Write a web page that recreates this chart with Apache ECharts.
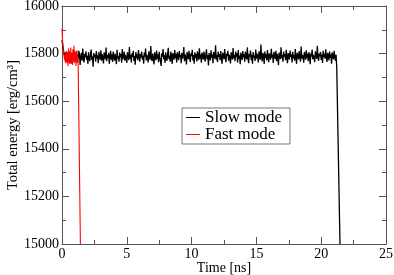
<!DOCTYPE html>
<html><head><meta charset="utf-8">
<script src="https://cdn.jsdelivr.net/npm/echarts@6/dist/echarts.min.js"></script>
<style>html,body{margin:0;padding:0;background:#fff}#c{width:394px;height:275px}</style>
</head><body><div id="c"></div>
<script>
// Slow mode: t = 0 .. 21.15 ns, step 0.05 ns
const slowStart = 0, slowStep = 0.05;
const slowValues = [
15858,15836,15819,15805,15797,15781,15806,15772,15799,15788,15765,15809,15779,15794,15758,15801,15786,15772,15815,15783,
15769,15797,15808,15761,15790,15776,15812,15795,15752,15788,15803,15770,15821,15781,15763,15799,15785,15810,15774,15791,
15757,15806,15780,15768,15798,15817,15773,15789,15745,15802,15784,15796,15766,15811,15779,15793,15760,15807,15787,15775,
15814,15770,15798,15782,15759,15805,15791,15776,15826,15768,15794,15781,15803,15757,15788,15812,15774,15797,15765,15809,
15783,15771,15800,15792,15756,15816,15779,15789,15766,15804,15784,15798,15762,15819,15776,15791,15808,15770,15795,15782,
15761,15806,15788,15773,15828,15779,15794,15763,15801,15786,15812,15769,15790,15753,15807,15781,15797,15772,15815,15788,
15766,15799,15784,15809,15775,15792,15758,15804,15787,15821,15771,15796,15780,15763,15810,15789,15774,15832,15782,15768,
15800,15793,15755,15806,15785,15772,15813,15779,15797,15764,15808,15783,15790,15748,15801,15787,15819,15776,15793,15761,
15805,15781,15770,15798,15824,15777,15791,15766,15809,15786,15757,15802,15792,15774,15815,15781,15799,15763,15806,15788,
15772,15811,15784,15795,15760,15803,15779,15791,15828,15768,15797,15785,15754,15807,15790,15776,15812,15782,15765,15801,
15789,15816,15771,15794,15758,15805,15783,15798,15767,15810,15787,15773,15822,15780,15796,15762,15804,15791,15775,15809,
15784,15766,15799,15818,15776,15793,15750,15802,15788,15771,15814,15783,15797,15760,15807,15790,15779,15835,15774,15795,
15765,15808,15786,15798,15772,15811,15781,15757,15803,15792,15776,15819,15785,15764,15800,15789,15812,15770,15796,15782,
15759,15806,15791,15775,15823,15780,15794,15768,15809,15786,15801,15763,15815,15778,15792,15755,15804,15788,15773,15811,
15784,15797,15766,15808,15790,15776,15826,15781,15760,15799,15787,15813,15772,15795,15758,15806,15783,15792,15769,15817,
15779,15800,15788,15763,15810,15794,15774,15838,15785,15767,15803,15791,15756,15809,15782,15797,15771,15815,15786,15764,
15801,15789,15775,15820,15783,15796,15761,15807,15792,15778,15812,15768,15799,15785,15751,15804,15790,15777,15827,15781,
15794,15766,15809,15787,15798,15772,15816,15783,15760,15802,15791,15775,15813,15786,15797,15763,15808,15780,15794,15770,
15819,15784,15757,15803,15792,15776,15811,15788,15766,15830,15779,15796,15785,15762,15807,15793,15774,15814,15781,15799,
15768,15806,15789,15755,15801,15787,15817,15776,15795,15782,15764,15810,15791,15778,15833,15783,15769,15800,15788,15807,
15773,15796,15761,15812,15785,15799,15779,15818,15786,15765,15803,15794,15771,15809,15782,15797,15758,15805,15790,15776,
15812,15788,15769,15795
];
const slowTail = [[21.2, 15740], [21.45, 15000]];

// Fast mode: t = 0 .. 1.24 ns, step 0.02 ns
const fastStart = 0, fastStep = 0.02;
const fastValues = [
15905,15880,15858,15842,15825,15812,15803,15796,15788,15781,
15774,15792,15766,15801,15777,15759,15795,15770,15812,15783,
15762,15806,15774,15748,15793,15781,15822,15768,15790,15757,
15809,15776,15799,15765,15826,15784,15771,15760,15803,15779,
15795,15752,15818,15772,15788,15767,15833,15781,15760,15799,
15775,15810,15768,15791,15748,15805,15780,15762,15814,15777,
15795,15770,15786
];
const fastTail = [[1.42, 15000]];

const seriesNames = ['Slow mode', 'Fast mode'];
const xTicks = [0, 5, 10, 15, 20, 25];
const yTicks = [15000, 15200, 15400, 15600, 15800, 16000];

function toPairs(start, step, vals, tail) {
  const out = vals.map((v, i) => [+(start + i * step).toFixed(3), v]);
  return out.concat(tail);
}

const font = 'Liberation Serif';
const axisColor = '#555';
const chart = echarts.init(document.getElementById('c'), null, {renderer: 'canvas'});
const xBase = {
  type: 'value', min: xTicks[0], max: xTicks[xTicks.length - 1], interval: 5,
  splitLine: {show: false},
  axisLine: {show: true, onZero: false, lineStyle: {color: axisColor, width: 1}},
  axisTick: {show: true, inside: true, length: 7, lineStyle: {color: axisColor}},
  minorTick: {show: true, splitNumber: 2, length: 4, lineStyle: {color: axisColor}},
};
const yBase = {
  type: 'value', min: yTicks[0], max: yTicks[yTicks.length - 1], interval: 200,
  splitLine: {show: false},
  axisLine: {show: true, onZero: false, lineStyle: {color: axisColor, width: 1}},
  axisTick: {show: true, inside: true, length: 7, lineStyle: {color: axisColor}},
  minorTick: {show: true, splitNumber: 2, length: 4, lineStyle: {color: axisColor}},
};
chart.setOption({
  animation: false,
  textStyle: {fontFamily: font},
  grid: {left: 62, right: 8, top: 6, bottom: 31, containLabel: false, outerBoundsMode: 'none'},
  legend: {
    data: seriesNames, orient: 'vertical', left: 182, top: 108,
    backgroundColor: '#fff', borderColor: '#777', borderWidth: 1,
    padding: [1, 8, 1, 4], itemGap: 0, itemWidth: 14, itemHeight: 1,
    icon: 'rect',
    textStyle: {fontFamily: font, fontSize: 17, color: '#000', padding: [0, 0, 0, 0], lineHeight: 17}
  },
  xAxis: [
    Object.assign({}, xBase, {position: 'bottom',
      name: 'Time [ns]', nameLocation: 'middle', nameGap: 17, nameMoveOverlap: false,
      nameTextStyle: {fontFamily: font, fontSize: 14, color: '#000', verticalAlign: 'top'},
      axisLabel: {fontFamily: font, fontSize: 14, color: '#000', margin: 3, formatter: v => String(v)}}),
    Object.assign({}, xBase, {position: 'top', axisLabel: {show: false}})
  ],
  yAxis: [
    Object.assign({}, yBase, {position: 'left',
      name: 'Total energy [erg/cm³]', nameLocation: 'middle', nameGap: 41, nameMoveOverlap: false,
      nameTextStyle: {fontFamily: font, fontSize: 14.5, color: '#000'},
      axisLabel: {fontFamily: font, fontSize: 14, color: '#000', margin: 3, formatter: v => String(v)}}),
    Object.assign({}, yBase, {position: 'right', axisLabel: {show: false}})
  ],
  series: [
    {name: seriesNames[0], type: 'line', showSymbol: false, symbol: 'none',
     data: toPairs(slowStart, slowStep, slowValues, slowTail),
     lineStyle: {color: '#000', width: 1.3}, itemStyle: {color: '#000'}, z: 2},
    {name: seriesNames[1], type: 'line', showSymbol: false, symbol: 'none',
     data: toPairs(fastStart, fastStep, fastValues, fastTail),
     lineStyle: {color: '#ff0000', width: 1.1}, itemStyle: {color: '#ff0000'}, z: 3}
  ]
});
</script></body></html>
